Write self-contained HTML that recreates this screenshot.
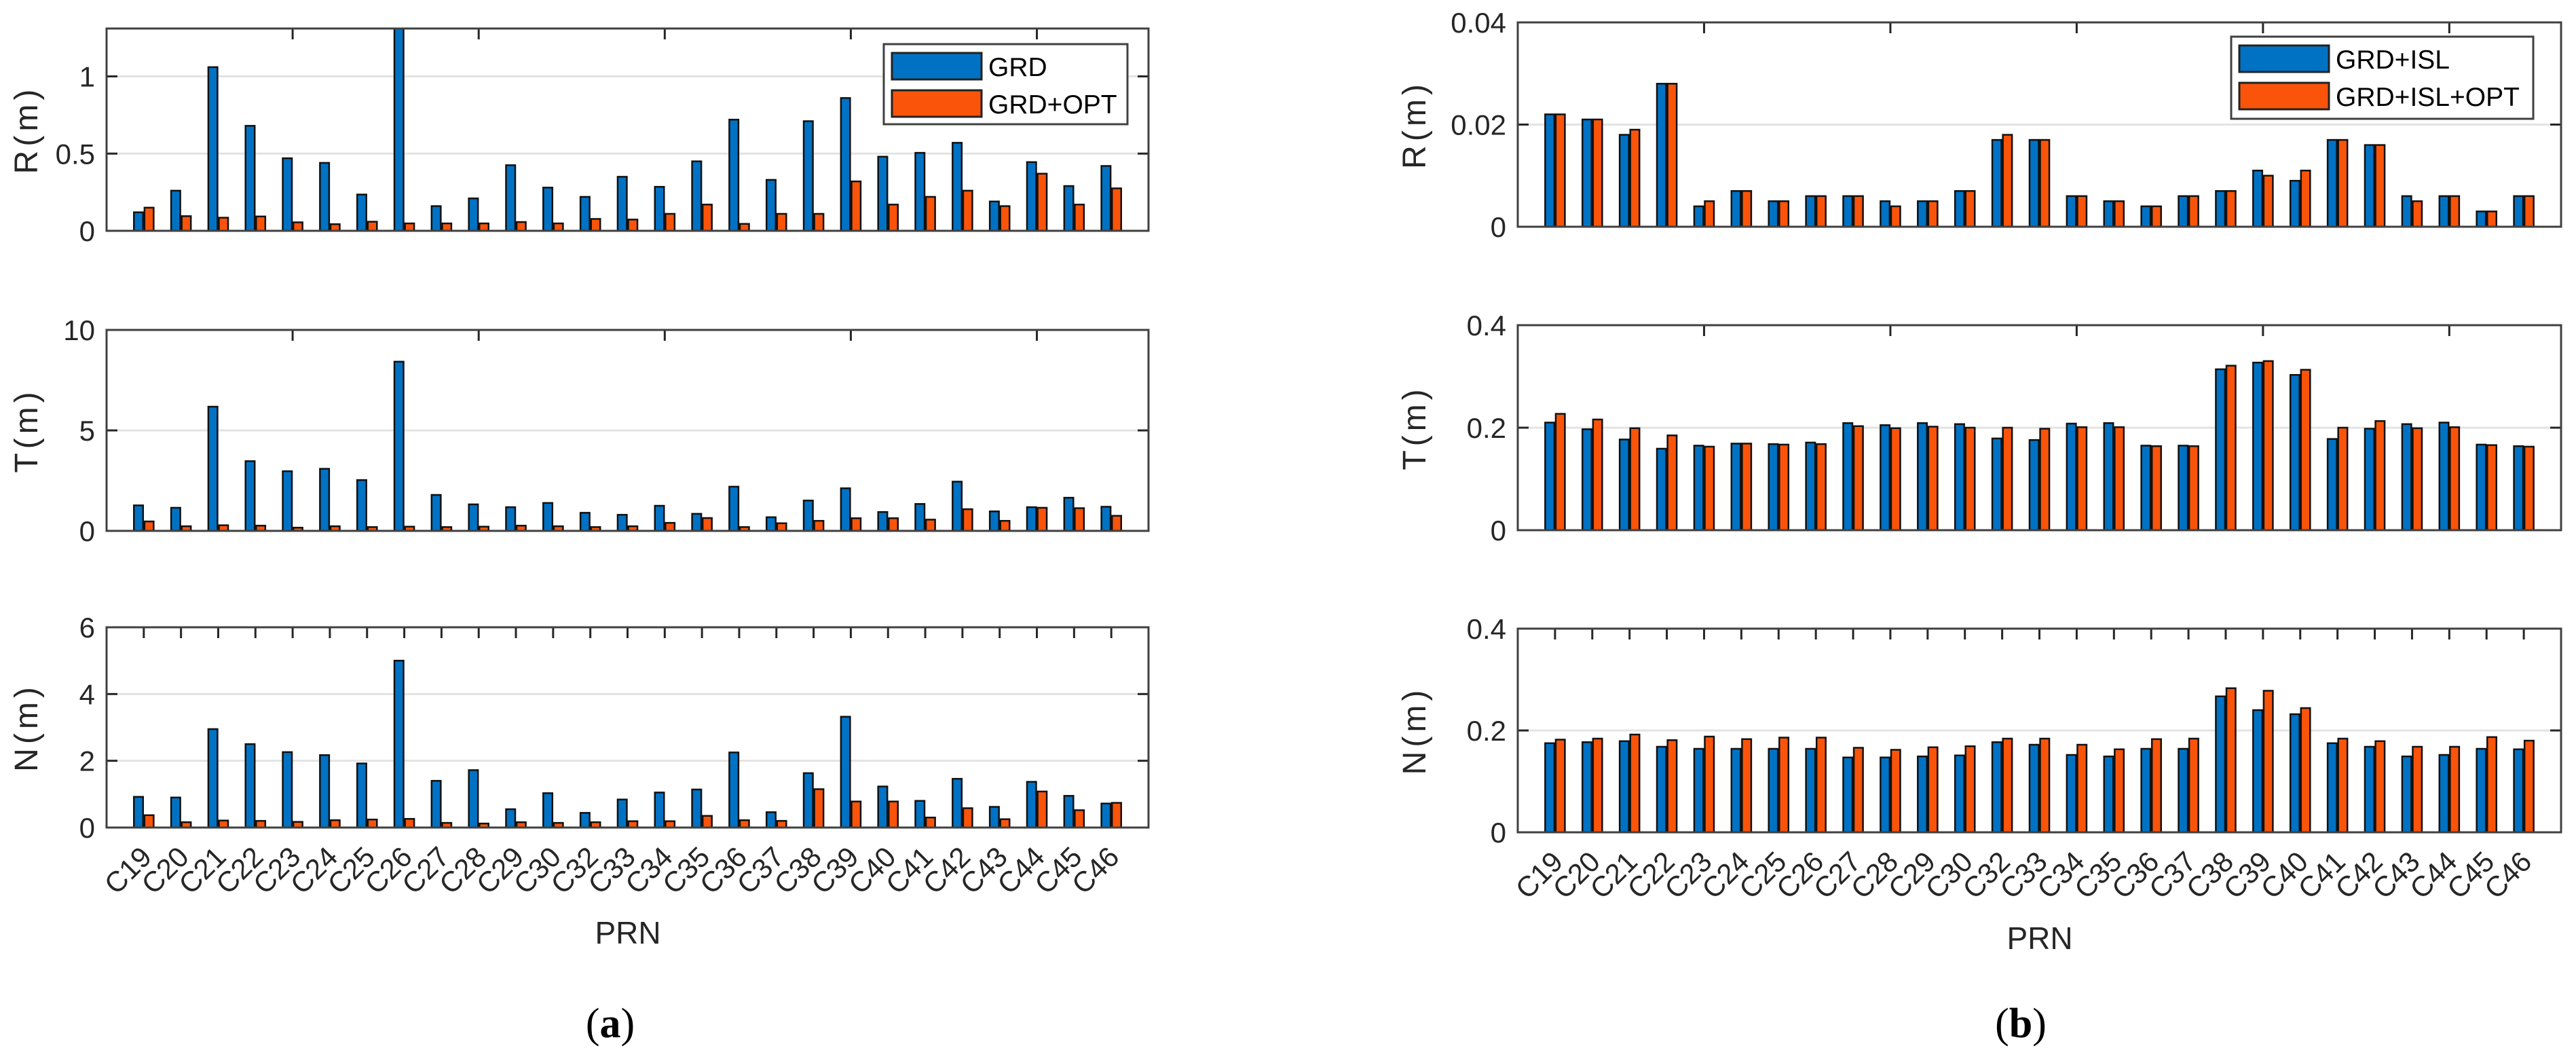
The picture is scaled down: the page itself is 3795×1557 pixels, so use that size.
<!DOCTYPE html>
<html><head><meta charset="utf-8"><title>Orbit error bar charts</title>
<style>
html,body{margin:0;padding:0;background:#fff;}
svg{display:block;font-family:"Liberation Sans",Arial,sans-serif;}
</style></head>
<body>
<svg id="fig" width="3795" height="1557" viewBox="0 0 3795 1557" xmlns="http://www.w3.org/2000/svg"></svg>
<script>
const categories = ["C19","C20","C21","C22","C23","C24","C25","C26","C27","C28","C29","C30","C32","C33","C34","C35","C36","C37","C38","C39","C40","C41","C42","C43","C44","C45","C46"];

// Panel (a)
const aR_GRD = [0.12,0.26,1.06,0.68,0.47,0.44,0.235,1.35,0.16,0.21,0.425,0.28,0.22,0.35,0.285,0.45,0.72,0.33,0.71,0.86,0.48,0.505,0.57,0.19,0.445,0.29,0.42];
const aR_OPT = [0.15,0.095,0.085,0.093,0.055,0.043,0.059,0.048,0.048,0.048,0.057,0.048,0.077,0.073,0.11,0.17,0.045,0.11,0.11,0.32,0.17,0.22,0.26,0.16,0.37,0.17,0.275];
const aT_GRD = [1.27,1.15,6.18,3.47,2.97,3.09,2.53,8.42,1.79,1.32,1.18,1.39,0.9,0.8,1.25,0.85,2.2,0.68,1.51,2.12,0.94,1.34,2.45,0.97,1.18,1.65,1.2];
const aT_OPT = [0.47,0.23,0.28,0.26,0.16,0.23,0.19,0.21,0.19,0.21,0.26,0.23,0.19,0.23,0.4,0.64,0.19,0.38,0.5,0.63,0.63,0.56,1.08,0.5,1.15,1.13,0.75];
const aN_GRD = [0.92,0.9,2.95,2.5,2.26,2.17,1.92,5.0,1.4,1.72,0.55,1.03,0.44,0.84,1.05,1.14,2.25,0.46,1.63,3.32,1.23,0.8,1.46,0.62,1.37,0.95,0.72];
const aN_OPT = [0.37,0.16,0.21,0.2,0.17,0.22,0.24,0.26,0.14,0.12,0.16,0.14,0.16,0.19,0.19,0.35,0.22,0.2,1.15,0.78,0.78,0.3,0.58,0.25,1.08,0.52,0.74];
// Panel (b)
const bR_ISL = [0.022,0.021,0.018,0.028,0.004,0.007,0.005,0.006,0.006,0.005,0.005,0.007,0.017,0.017,0.006,0.005,0.004,0.006,0.007,0.011,0.009,0.017,0.016,0.006,0.006,0.003,0.006];
const bR_OPT = [0.022,0.021,0.019,0.028,0.005,0.007,0.005,0.006,0.006,0.004,0.005,0.007,0.018,0.017,0.006,0.005,0.004,0.006,0.007,0.010,0.011,0.017,0.016,0.005,0.006,0.003,0.006];
const bT_ISL = [0.21,0.197,0.177,0.159,0.165,0.169,0.168,0.171,0.209,0.205,0.209,0.207,0.179,0.176,0.208,0.209,0.165,0.165,0.314,0.327,0.303,0.178,0.198,0.207,0.21,0.167,0.164];
const bT_OPT = [0.227,0.216,0.199,0.185,0.163,0.169,0.167,0.168,0.203,0.199,0.202,0.2,0.2,0.198,0.201,0.201,0.164,0.164,0.321,0.33,0.313,0.2,0.213,0.199,0.201,0.166,0.163];
const bN_ISL = [0.175,0.177,0.179,0.168,0.164,0.164,0.164,0.164,0.147,0.147,0.149,0.151,0.177,0.172,0.152,0.149,0.164,0.164,0.267,0.24,0.232,0.175,0.168,0.149,0.152,0.164,0.163];
const bN_OPT = [0.182,0.184,0.192,0.181,0.188,0.183,0.186,0.186,0.166,0.162,0.167,0.169,0.184,0.184,0.172,0.163,0.183,0.184,0.283,0.278,0.244,0.184,0.179,0.168,0.168,0.187,0.18];

const aR_ticks = [0,0.5,1], aR_tickLabels = ["0","0.5","1"];
const aT_ticks = [0,5,10], aT_tickLabels = ["0","5","10"];
const aN_ticks = [0,2,4,6], aN_tickLabels = ["0","2","4","6"];
const bR_ticks = [0,0.02,0.04], bR_tickLabels = ["0","0.02","0.04"];
const b_ticks = [0,0.2,0.4], b_tickLabels = ["0","0.2","0.4"];

const NS = "http://www.w3.org/2000/svg";
const svg = document.getElementById("fig");
const BLUE = "#0072C4", ORANGE = "#F9540A";
function mk(tag, attrs, parent){
  const e = document.createElementNS(NS, tag);
  for (const k in attrs) e.setAttribute(k, attrs[k]);
  (parent||svg).appendChild(e);
  return e;
}
let clipId = 0;
function drawAxes(cfg){
  const g = mk("g", {});
  
  
  const n = categories.length;
  const step = (cfg.x1 - cfg.x0) / (n + 1);
  const xOf = i => cfg.x0 + (i + 1) * step;
  const yOf = v => cfg.y1 - (v / cfg.ymax) * (cfg.y1 - cfg.y0);
  // grid
  cfg.ticks.forEach((t, k) => {
    const y = yOf(t);
    if (t > 0 && t < cfg.ymax) {
      const gl = mk("line", {x1:cfg.x0, x2:cfg.x1, y1:y, y2:y, stroke:"#e3e3e3", "stroke-width":3}, g);
      
      
    }
    const tl = mk("text", {x:cfg.x0 - 17, y:y + 15, "text-anchor":"end", "font-size":42, fill:"#262626"}, g);
    tl.textContent = cfg.tickLabels[k];
    
    
    mk("line", {x1:cfg.x0, x2:cfg.x0 + 16, y1:y, y2:y, stroke:"#262626", "stroke-width":3}, g);
    mk("line", {x1:cfg.x1, x2:cfg.x1 - 16, y1:y, y2:y, stroke:"#262626", "stroke-width":3}, g);
  });
  // clip
  clipId++;
  const cp = mk("clipPath", {id:"cp" + clipId}, g);
  mk("rect", {x:cfg.x0, y:cfg.y0, width:cfg.x1 - cfg.x0, height:cfg.y1 - cfg.y0}, cp);
  const bars = mk("g", {"clip-path":"url(#cp" + clipId + ")"}, g);
  const bw = 13.5, off = 7.8;
  categories.forEach((c, i) => {
    const cx = xOf(i);
    const v1 = cfg.s1[i], v2 = cfg.s2[i];
    const r1 = mk("rect", {x:cx - off - bw/2, y:yOf(v1), width:bw, height:cfg.y1 - yOf(v1), fill:BLUE, stroke:"#111", "stroke-width":2.5}, bars);
    
    
    const r2 = mk("rect", {x:cx + off - bw/2, y:yOf(v2), width:bw, height:cfg.y1 - yOf(v2), fill:ORANGE, stroke:"#111", "stroke-width":2.5}, bars);
    
    
  });
  // top ticks
  categories.forEach((c, i) => {
    if (cfg.allTicks || (i + 1) % 5 === 0) {
      const x = cfg.allTicks ? xOf(i) : cfg.x0 + (i + 1) * step - step/2 + step/2;
      mk("line", {x1:x, x2:x, y1:cfg.y0, y2:cfg.y0 + 16, stroke:"#262626", "stroke-width":3}, g);
    }
  });
  // frame
  const fr = mk("rect", {x:cfg.x0, y:cfg.y0, width:cfg.x1 - cfg.x0, height:cfg.y1 - cfg.y0, fill:"none", stroke:"#404040", "stroke-width":3}, g);
  
  
  // y title
  const yt = mk("text", {x:0, y:0, "text-anchor":"middle", "font-size":48, fill:"#262626", "letter-spacing":"6", transform:"translate(" + cfg.ytx + "," + ((cfg.y0 + cfg.y1)/2) + ") rotate(-90)"}, g);
  yt.textContent = cfg.ytitle;
  
  
  if (cfg.xlabels) {
    categories.forEach((c, i) => {
      const x = xOf(i) + 14, y = cfg.y1 + 46;
      const t = mk("text", {x:x, y:y, "text-anchor":"end", "font-size":42, fill:"#262626", transform:"rotate(-45 " + x + " " + y + ")"}, g);
      t.textContent = c;
      
      
    });
  }
}
function legend(x, y, w, h, labels, name){
  const g = mk("g", {});
  
  
  mk("rect", {x:x, y:y, width:w, height:h, fill:"#fff", stroke:"#404040", "stroke-width":3}, g);
  const cols = [BLUE, ORANGE];
  labels.forEach((l, k) => {
    const sy = y + 13 + k * 55;
    const sw = mk("rect", {x:x + 12, y:sy, width:132, height:39, fill:cols[k], stroke:"#222", "stroke-width":3}, g);
    
    
    const t = mk("text", {x:x + 154, y:sy + 34, "font-size":39, fill:"#000"}, g);
    t.textContent = l;
    
    
  });
}

const A = {x0:157, x1:1692};
const B = {x0:2236, x1:3773};
drawAxes({name:"a-r-chart", x0:A.x0, x1:A.x1, y0:42, y1:340, ymax:1.31, ticks:aR_ticks, tickLabels:aR_tickLabels, s1:aR_GRD, s2:aR_OPT, key1:"grd", key2:"grd-opt", ytitle:"R(m)", ytx:55});
drawAxes({name:"a-t-chart", x0:A.x0, x1:A.x1, y0:486, y1:782, ymax:10, ticks:aT_ticks, tickLabels:aT_tickLabels, s1:aT_GRD, s2:aT_OPT, key1:"grd", key2:"grd-opt", ytitle:"T(m)", ytx:55});
drawAxes({name:"a-n-chart", x0:A.x0, x1:A.x1, y0:924, y1:1219, ymax:6, ticks:aN_ticks, tickLabels:aN_tickLabels, s1:aN_GRD, s2:aN_OPT, key1:"grd", key2:"grd-opt", ytitle:"N(m)", ytx:55, allTicks:true, xlabels:true});
drawAxes({name:"b-r-chart", x0:B.x0, x1:B.x1, y0:33, y1:334, ymax:0.04, ticks:bR_ticks, tickLabels:bR_tickLabels, s1:bR_ISL, s2:bR_OPT, key1:"grd-isl", key2:"grd-isl-opt", ytitle:"R(m)", ytx:2100});
drawAxes({name:"b-t-chart", x0:B.x0, x1:B.x1, y0:479, y1:781, ymax:0.4, ticks:b_ticks, tickLabels:b_tickLabels, s1:bT_ISL, s2:bT_OPT, key1:"grd-isl", key2:"grd-isl-opt", ytitle:"T(m)", ytx:2100});
drawAxes({name:"b-n-chart", x0:B.x0, x1:B.x1, y0:926, y1:1226, ymax:0.4, ticks:b_ticks, tickLabels:b_tickLabels, s1:bN_ISL, s2:bN_OPT, key1:"grd-isl", key2:"grd-isl-opt", ytitle:"N(m)", ytx:2100, allTicks:true, xlabels:true});

legend(1302, 65, 359, 118, ["GRD","GRD+OPT"], "legend-a");
legend(3287, 54, 445, 121, ["GRD+ISL","GRD+ISL+OPT"], "legend-b");

const xa = mk("text", {x:925, y:1390, "text-anchor":"middle", "font-size":46, fill:"#262626"});
xa.textContent = "PRN";


const xb = mk("text", {x:3005, y:1398, "text-anchor":"middle", "font-size":46, fill:"#262626"});
xb.textContent = "PRN";



function caption(x, y, letter, name){
  const t = mk("text", {x:x, y:y, "text-anchor":"middle", "font-size":62, fill:"#000", "font-family":"Liberation Serif, serif"});
  
  
  const s1 = mk("tspan", {}, t); s1.textContent = "(";
  const s2 = mk("tspan", {"font-weight":"bold"}, t); s2.textContent = letter;
  const s3 = mk("tspan", {}, t); s3.textContent = ")";
}
caption(899, 1528, "a", "caption-a");
caption(2977, 1528, "b", "caption-b");
</script>
</body></html>
